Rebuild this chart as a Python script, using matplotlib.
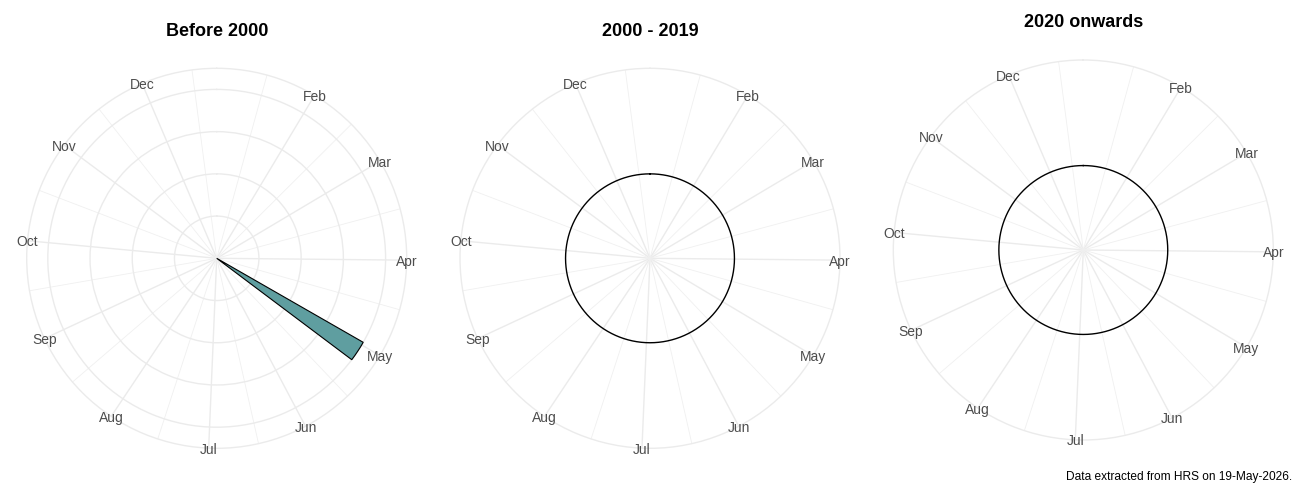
import numpy as np
import matplotlib
matplotlib.use("Agg")
import matplotlib.pyplot as plt
from matplotlib.ticker import FixedLocator

plt.rcParams['font.family'] = ['Liberation Sans', 'DejaVu Sans']

# month breaks, day of year (Jan 1 = 0)
month_labels = ['Feb', 'Mar', 'Apr', 'May', 'Jun', 'Jul', 'Aug', 'Sep', 'Oct', 'Nov', 'Dec']
month_starts = [31, 59, 90, 120, 151, 181, 212, 243, 273, 304, 334]
# date range covered by the x scale
day_min = 0.3
day_max = 356.9

panel_titles = ['Before 2000', '2000 - 2019', '2020 onwards']
# weekly bins with reports (start day, count)
bar_days = [[119], [], []]
bar_counts = [[4], [], []]
bin_width = 7

caption = 'Data extracted from HRS on 19-May-2026.'

GRID = '#EBEBEB'
GRID_MINOR = '#F0F0F0'
TEXT = '#4D4D4D'
FILL = '#5F9EA0'


def to_theta(d):
    return (np.asarray(d, dtype=float) - day_min) / (day_max - day_min) * 2 * np.pi


# minor breaks: midpoints between month starts, Jan 1 on both ends
ext = [0] + month_starts + [365]
minor_days = [(a + b) / 2 for a, b in zip(ext[:-1], ext[1:])]

fig = plt.figure(figsize=(13, 5), dpi=100)
fig.patch.set_facecolor('white')

W, H = 1300, 500
R_PX = 190
centers = [(216.7, 258.3), (650, 258.3), (1083.3, 250)]
title_y = [31.5, 31.5, 22.5]

for i in range(3):
    cx, cy = centers[i]
    ax = fig.add_axes([(cx - R_PX) / W, (H - cy - R_PX) / H, 2 * R_PX / W, 2 * R_PX / H],
                      projection='polar')
    ax.set_theta_zero_location('N')
    ax.set_theta_direction(-1)

    counts = bar_counts[i]
    if counts:
        lo, hi = 0.0, float(max(counts))
        rbreaks = np.arange(1, hi + 1)
    else:
        lo, hi = -0.5, 0.5
        rbreaks = []
    r_outer = lo + (hi - lo) * 0.45 / 0.4
    ax.set_ylim(lo, r_outer)

    ax.xaxis.set_major_locator(FixedLocator(to_theta(month_starts)))
    ax.xaxis.set_minor_locator(FixedLocator(to_theta(minor_days)))
    ax.set_xticklabels([])
    ax.set_yticks(rbreaks)
    ax.set_yticklabels([])
    ax.tick_params(length=0, which='both')
    ax.grid(True, which='major', color=GRID, linewidth=1.0)
    ax.xaxis.grid(True, which='minor', color=GRID_MINOR, linewidth=0.6)
    ax.spines['polar'].set_color(GRID)
    ax.spines['polar'].set_linewidth(1.0)

    if counts:
        starts = np.array(bar_days[i], dtype=float)
        ax.bar(to_theta(starts + bin_width / 2), counts,
               width=to_theta(bin_width) - to_theta(0), bottom=0,
               color=FILL, edgecolor='black', linewidth=0.8, zorder=3)
    else:
        th = np.linspace(0, 2 * np.pi, 361)
        ax.plot(th, np.zeros_like(th), color='black', linewidth=1.0, zorder=3)

    for lab, d in zip(month_labels, month_starts):
        ax.text(to_theta(d), r_outer, lab, ha='center', va='center_baseline',
                fontsize=10, color=TEXT, zorder=4)

    fig.text(cx / W, 1 - title_y[i] / H, panel_titles[i], ha='center', va='center',
             fontsize=13, fontweight='bold')

fig.text(1292 / W, 1 - 477 / H, caption, ha='right', va='center', fontsize=8.6)

fig.savefig('out.png', dpi=100, facecolor='white')
